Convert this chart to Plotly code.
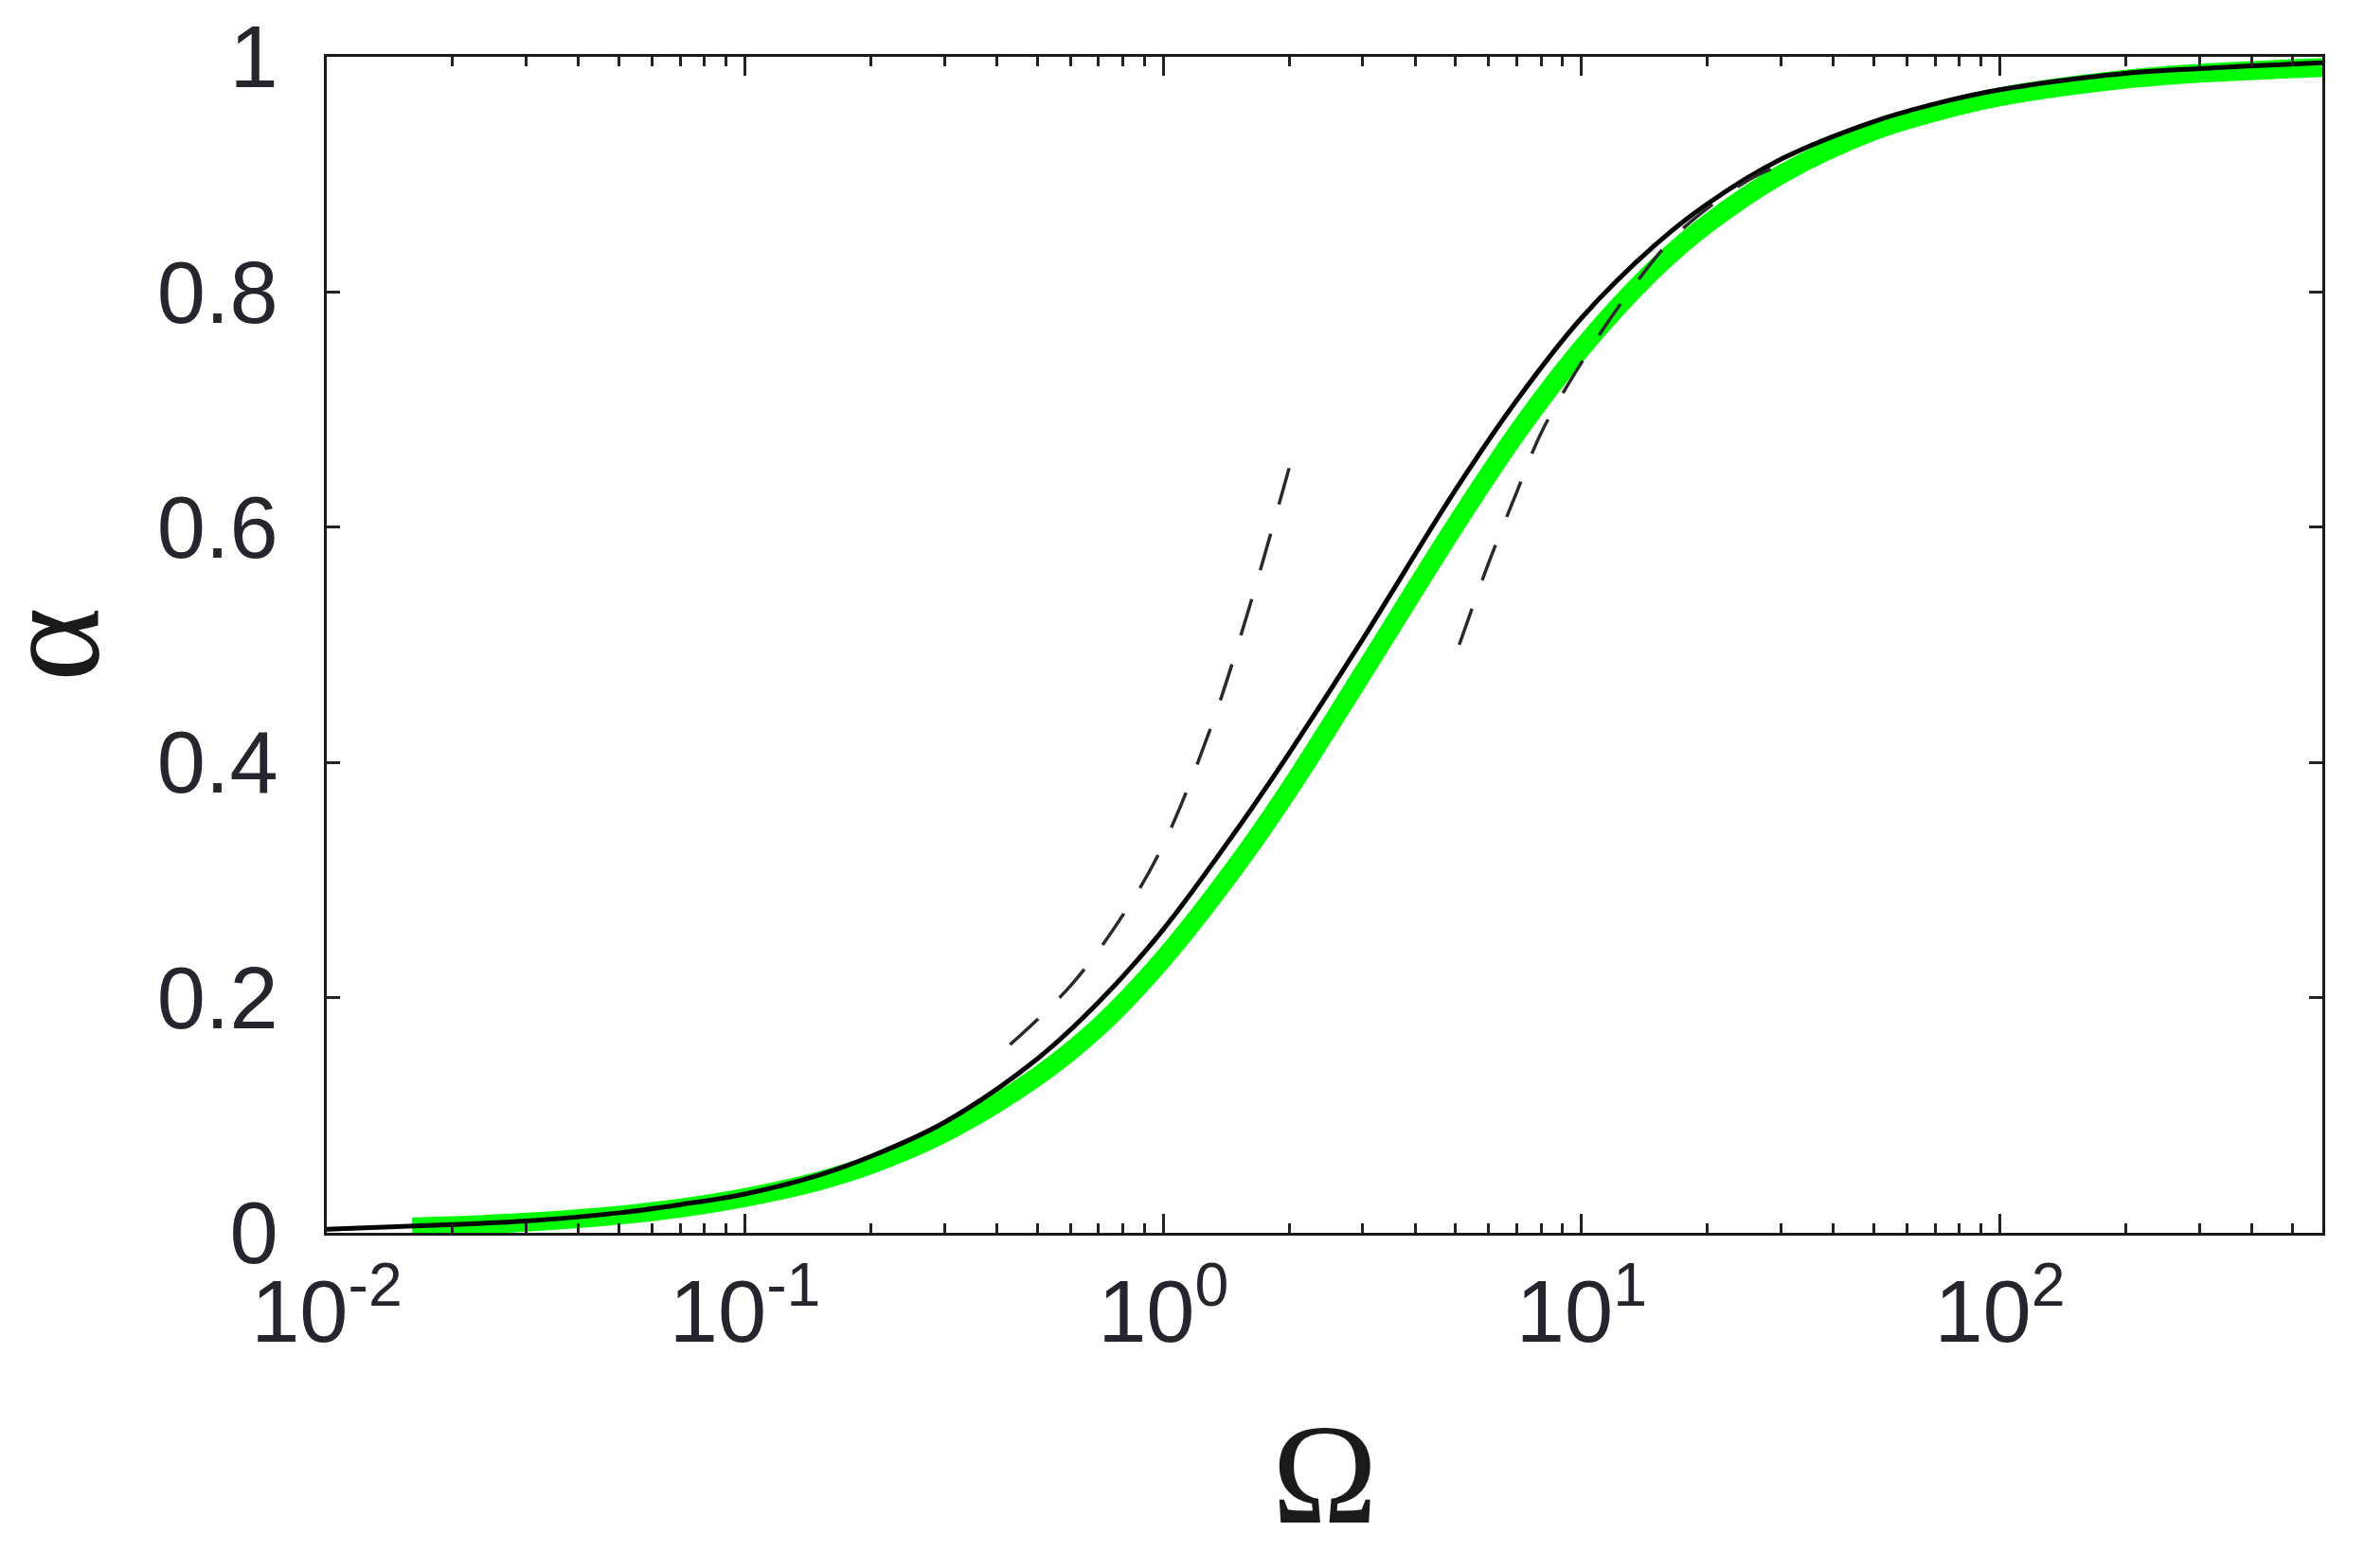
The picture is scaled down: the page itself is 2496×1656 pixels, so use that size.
import plotly.graph_objects as go

# values
omega_black = [0.01, 0.02, 0.03, 0.05, 0.07, 0.1, 0.15, 0.2, 0.3, 0.5, 0.7, 1.0, 1.5, 2.0,
               3.0, 5.0, 7.0, 10.0, 15.0, 20.0, 30.0, 50.0, 70.0, 100.0, 200.0, 300.0, 590.0]
alpha_black = [0.003, 0.007, 0.010, 0.017, 0.024, 0.033, 0.049, 0.065, 0.094, 0.148, 0.196,
               0.258, 0.343, 0.408, 0.505, 0.632, 0.708, 0.778, 0.840, 0.875, 0.913, 0.945,
               0.960, 0.972, 0.986, 0.990, 0.995]

omega_green = [0.016, 0.02, 0.03, 0.05, 0.07, 0.1, 0.15, 0.2, 0.3, 0.5, 0.7, 1.0, 1.5, 2.0,
               3.0, 5.0, 7.0, 10.0, 15.0, 20.0, 30.0, 50.0, 70.0, 100.0, 200.0, 300.0, 590.0]
alpha_green = [0.005, 0.006, 0.009, 0.015, 0.021, 0.030, 0.044, 0.058, 0.085, 0.133, 0.175,
               0.233, 0.313, 0.377, 0.476, 0.602, 0.680, 0.752, 0.820, 0.858, 0.900, 0.937,
               0.953, 0.966, 0.981, 0.986, 0.991]

omega_low = [0.43, 0.6, 0.8, 1.0, 1.3, 1.6, 2.06]
alpha_low = [0.16, 0.21, 0.27, 0.33, 0.43, 0.53, 0.667]

omega_high = [5.1, 6.0, 7.0, 8.0, 10.0, 13.0, 17.0, 25.0, 30.0]
alpha_high = [0.5, 0.57, 0.63, 0.68, 0.74, 0.8, 0.85, 0.895, 0.908]

x_major = [0.01, 0.1, 1, 10, 100]
x_major_text = ["10<sup>-2</sup>", "10<sup>-1</sup>", "10<sup>0</sup>", "10<sup>1</sup>", "10<sup>2</sup>"]
x_minor = [m * d for d in [0.01, 0.1, 1, 10, 100] for m in range(2, 10) if m * d < 590]

tick_font = dict(family="Liberation Sans Narrow, Liberation Sans, Arial", size=92, color="#25252d")
serif = "Liberation Serif, Times New Roman, serif"

fig = go.Figure()
fig.add_trace(go.Scatter(x=omega_green, y=alpha_green, mode="lines", line_shape="spline",
                         line=dict(color="#00ff00", width=20)))
fig.add_trace(go.Scatter(x=omega_black, y=alpha_black, mode="lines", line_shape="spline",
                         line=dict(color="black", width=5)))
for ox, ay in [(omega_low, alpha_low), (omega_high, alpha_high)]:
    fig.add_trace(go.Scatter(x=ox, y=ay, mode="lines", line_shape="spline",
                             line=dict(color="#2a2a2a", width=3.5, dash="40px,32px")))

fig.update_xaxes(
    type="log", range=[-2, 2.771], automargin=False,
    tickmode="array", tickvals=x_major, ticktext=x_major_text,
    ticks="inside", ticklen=20, tickwidth=3, tickcolor="#222",
    minor=dict(tickmode="array", tickvals=x_minor, ticks="inside", ticklen=10,
               tickwidth=3, tickcolor="#222", showgrid=False),
    showline=True, linecolor="#1a1a1a", linewidth=3, mirror="allticks",
    showgrid=False, zeroline=False, tickfont=tick_font, ticklabelstandoff=2,
)
fig.update_yaxes(
    range=[0, 1], dtick=0.2, automargin=False,
    ticks="inside", ticklen=14, tickwidth=3, tickcolor="#222",
    showline=True, linecolor="#1a1a1a", linewidth=3, mirror="allticks",
    showgrid=False, zeroline=False, tickfont=tick_font, ticklabelstandoff=30,
)

fig.add_annotation(text="α", xref="paper", yref="paper", x=0, y=0.5, xshift=-292,
                   textangle=-90, showarrow=False, xanchor="center", yanchor="middle",
                   font=dict(family=serif, size=150, color="#1a1a1a"))
fig.add_annotation(text="Ω", xref="paper", yref="paper", x=0.5, y=0, yshift=-255,
                   showarrow=False, xanchor="center", yanchor="middle",
                   font=dict(family=serif, size=150, color="#1a1a1a"))

fig.update_layout(
    width=2496, height=1656,
    margin=dict(l=337, r=52, t=52, b=362),
    plot_bgcolor="white", paper_bgcolor="white",
    showlegend=False,
)

fig.write_html("out.html")
